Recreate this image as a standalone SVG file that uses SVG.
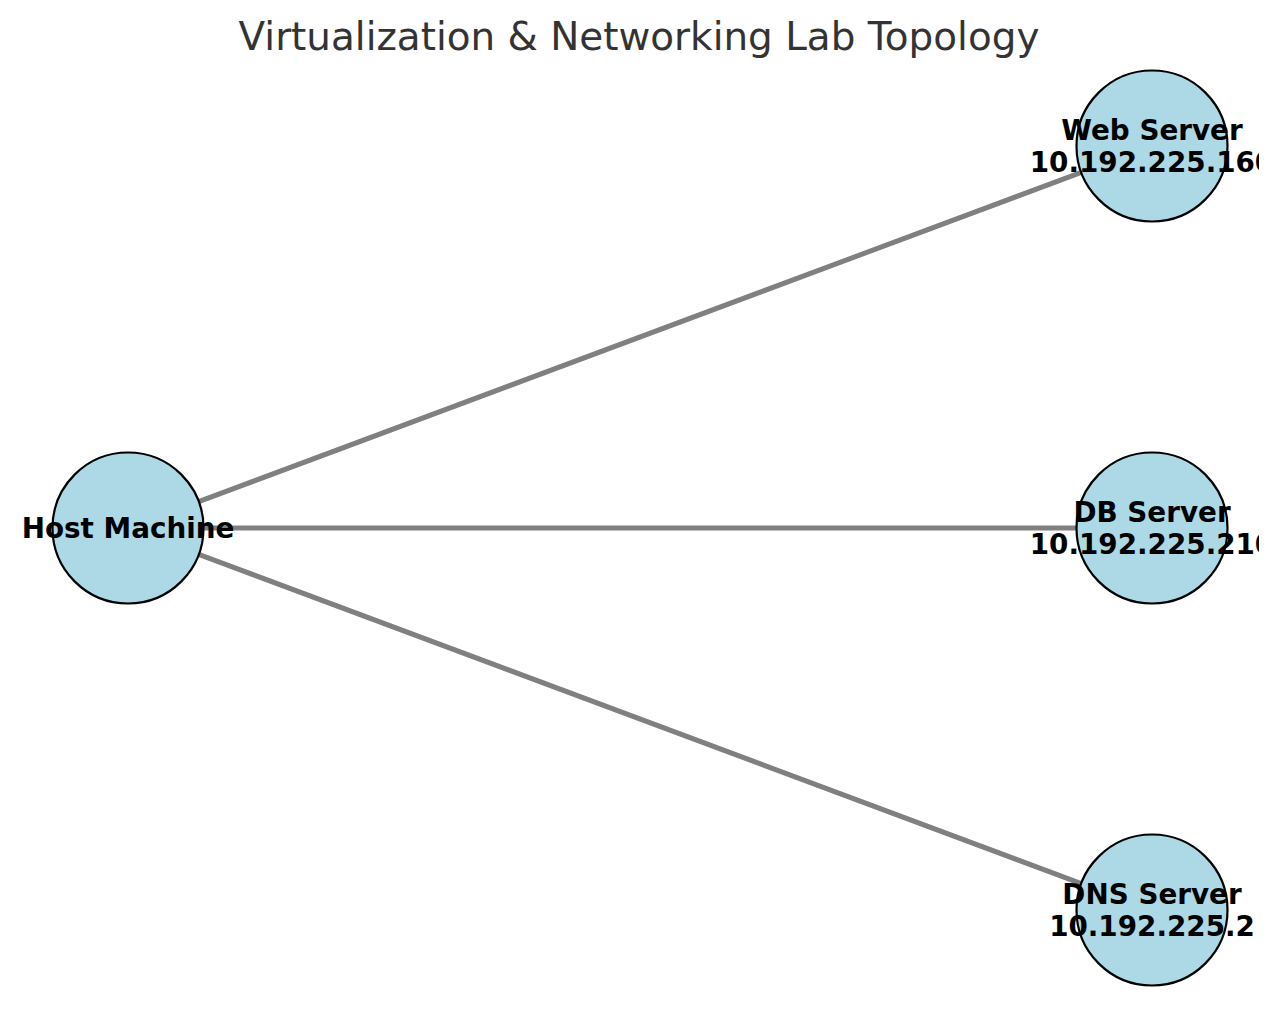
<svg xmlns="http://www.w3.org/2000/svg" width="1280" height="1010" viewBox="0 0 1280 1010">
<defs>
<style>
.edge{stroke:#808080;stroke-width:5;fill:none}
.node{fill:#ADD8E6;stroke:#000;stroke-width:2.2}
.lbl{font-family:"DejaVu Sans",sans-serif;font-weight:bold;font-size:27.8px;fill:#000;text-anchor:middle}
.title{font-family:"DejaVu Sans",sans-serif;font-size:38.9px;fill:#333;text-anchor:middle}
</style>
<clipPath id="clip"><rect x="0" y="0" width="1259" height="1010"/></clipPath>
</defs>
<rect width="1280" height="1010" fill="#fff"/>
<text class="title" x="639" y="50">Virtualization &amp; Networking Lab Topology</text>
<g clip-path="url(#clip)">
<g id="edges">
<line class="edge" x1="128" y1="528" x2="1152" y2="146"/>
<line class="edge" x1="128" y1="528" x2="1152" y2="528"/>
<line class="edge" x1="128" y1="528" x2="1152" y2="910"/>
</g>
<g id="host"><circle class="node" cx="128" cy="528" r="75.5"/><text class="lbl" x="128" y="537.5">Host Machine</text></g>
<g id="web"><circle class="node" cx="1152" cy="146" r="75.5"/><text class="lbl" x="1152" y="139.5">Web Server</text><text class="lbl" x="1152" y="171.5">10.192.225.160</text></g>
<g id="db"><circle class="node" cx="1152" cy="528" r="75.5"/><text class="lbl" x="1152" y="521.5">DB Server</text><text class="lbl" x="1152" y="553.5">10.192.225.210</text></g>
<g id="dns"><circle class="node" cx="1152" cy="910" r="75.5"/><text class="lbl" x="1152" y="903.5">DNS Server</text><text class="lbl" x="1152" y="935.5">10.192.225.2</text></g>
</g>
</svg>
